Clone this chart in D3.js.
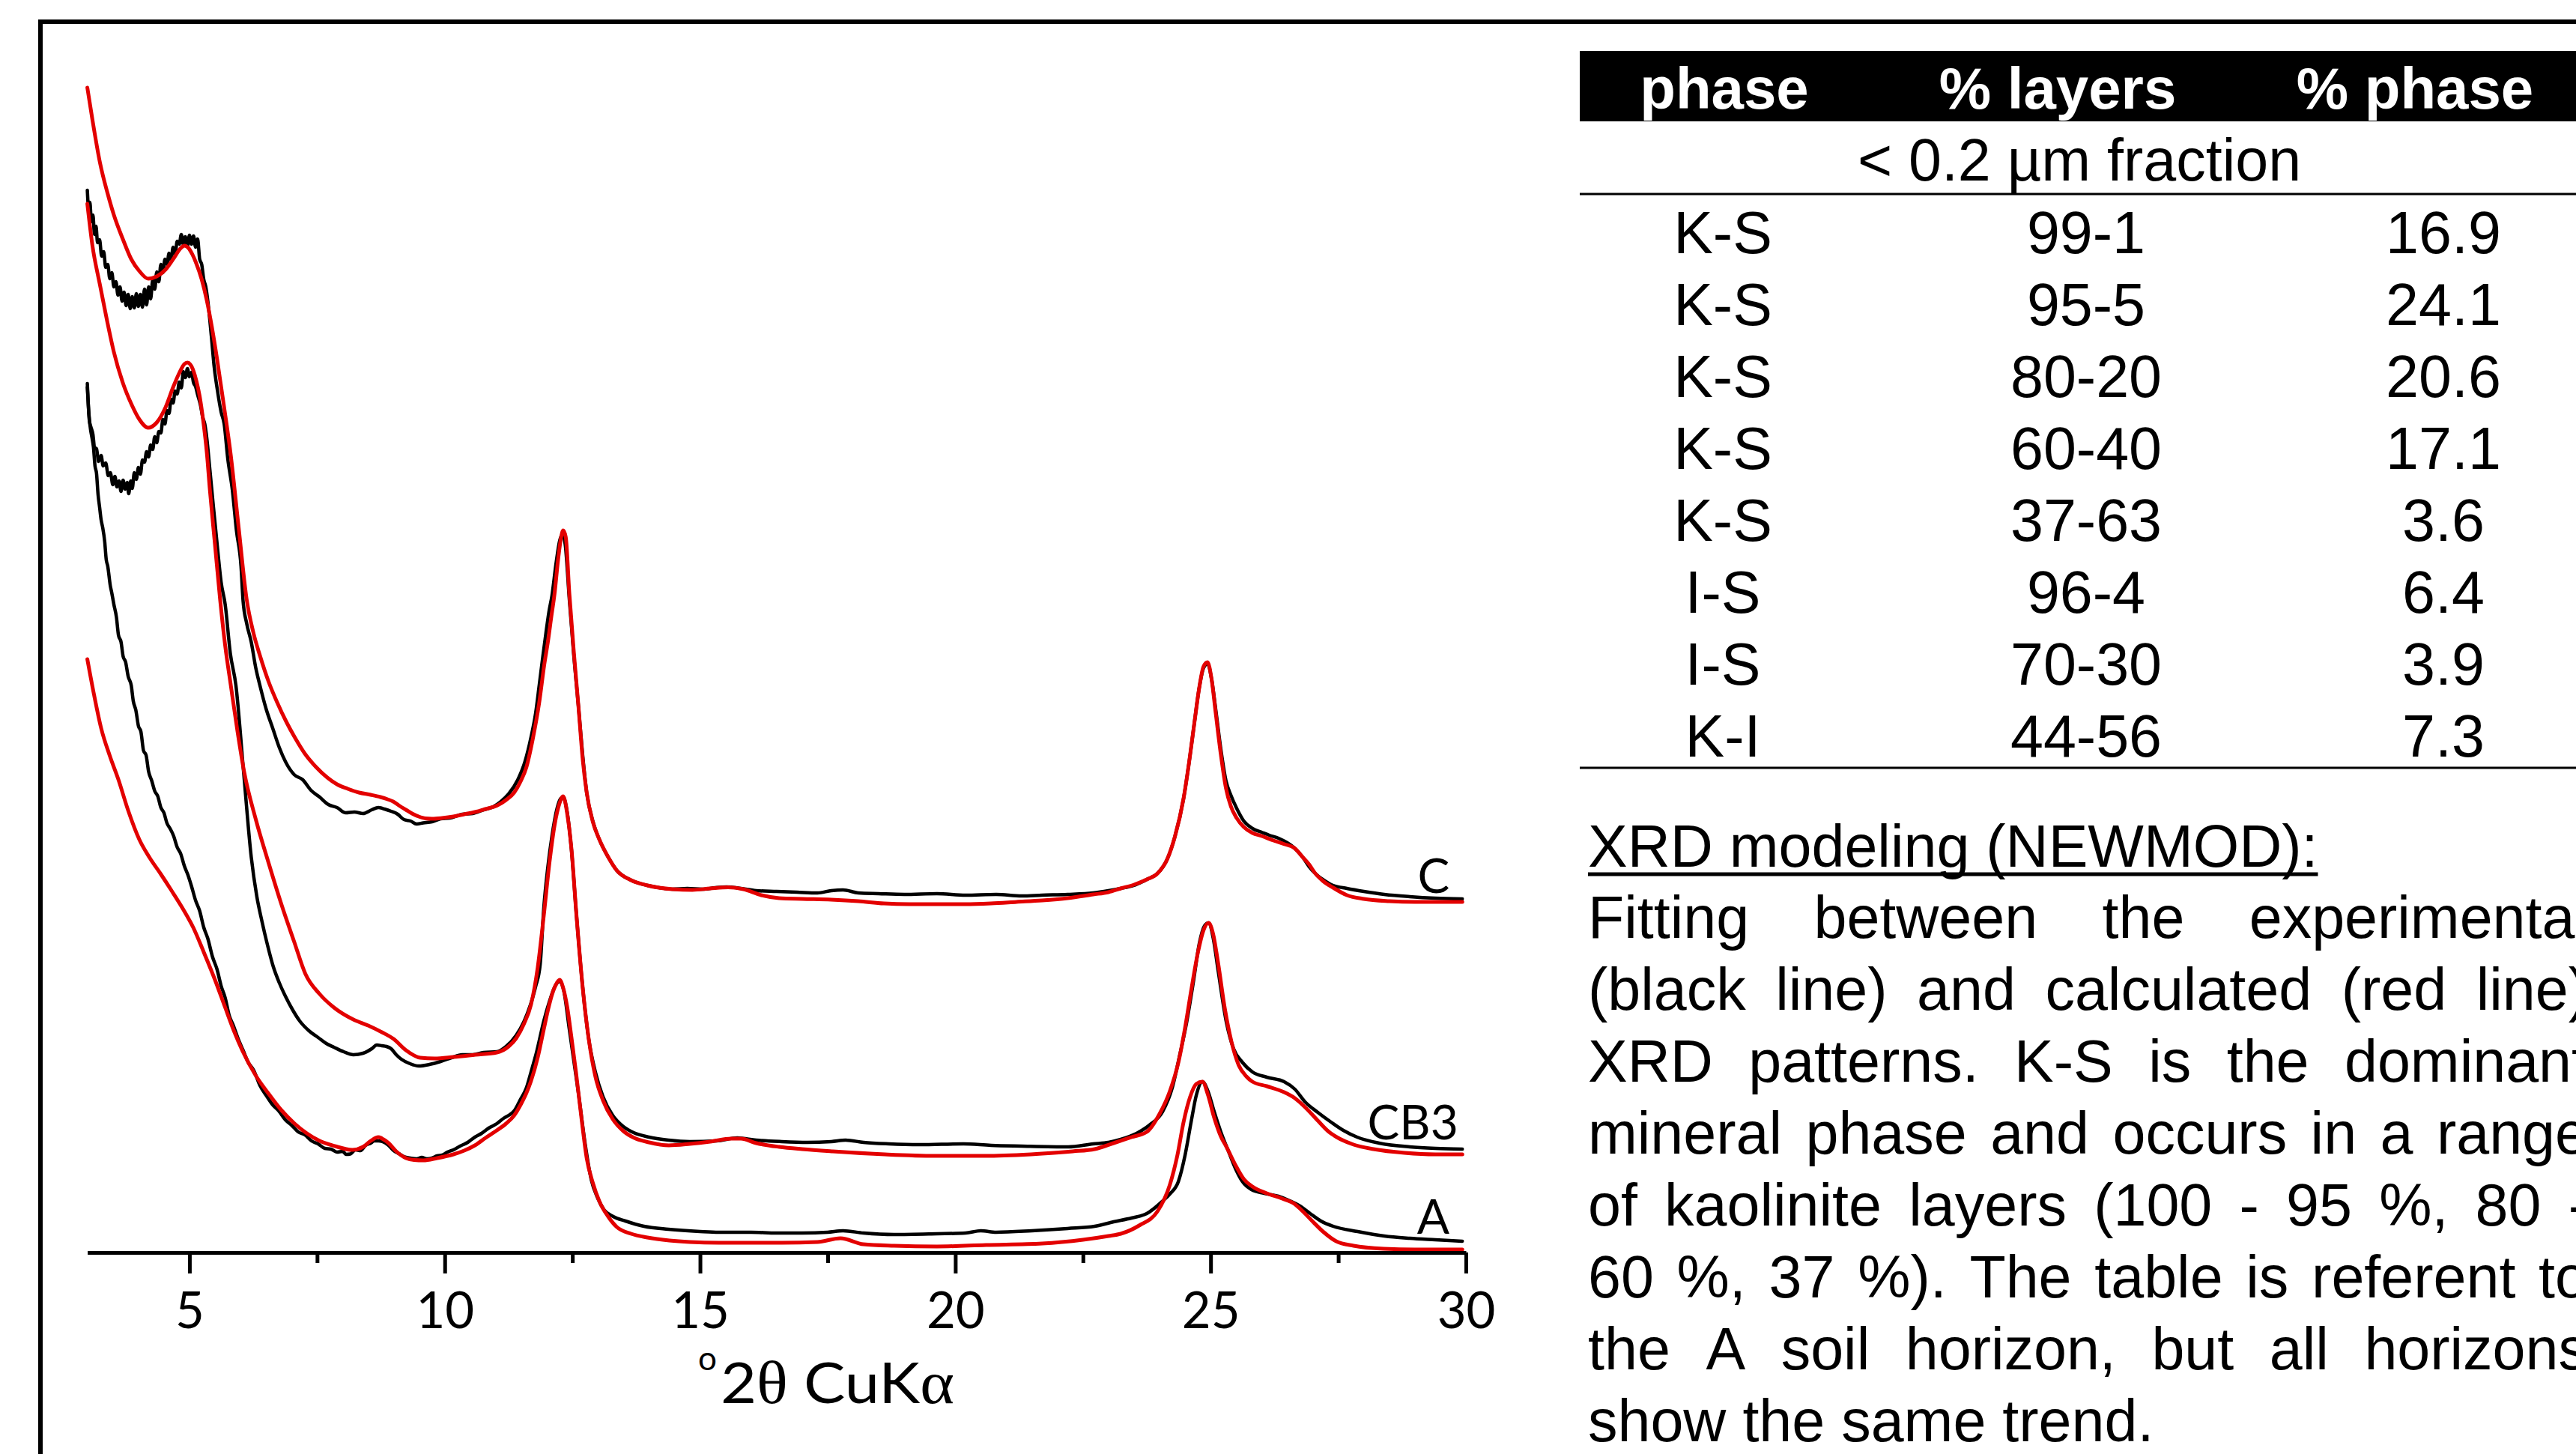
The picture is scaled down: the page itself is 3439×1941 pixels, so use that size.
<!DOCTYPE html>
<html>
<head>
<meta charset="utf-8">
<script src="https://cdn.jsdelivr.net/npm/d3@7"></script>
<style>
  body { margin: 0; background: #fff; }
  svg { display: block; }
</style>
</head>
<body>
<div id="chart"></div>
<script>
// ---- Data ----

// x axis (degrees 2-theta)
const xTicks = [5, 10, 15, 20, 25, 30];
const xMinorTicks = [7.5, 12.5, 17.5, 22.5, 27.5];

// Sample names (top to bottom)
const sampleNames = ["C", "CB3", "A"];

// Experimental pattern, sample C  [2theta, intensity (a.u., stacked)]
const expC = [
  [3.00,141.8],[3.03,139.0],[3.05,140.2],[3.08,137.6],[3.11,138.5],[3.14,135.9],[3.17,137.0],[3.20,134.8],
  [3.24,135.2],[3.28,133.0],[3.32,133.6],[3.36,131.5],[3.40,131.9],[3.44,130.0],[3.48,130.8],[3.52,128.9],
  [3.56,129.6],[3.60,127.8],[3.64,128.9],[3.68,127.0],[3.72,128.2],[3.76,126.4],[3.80,127.9],[3.84,126.0],
  [3.88,127.6],[3.92,126.1],[3.96,128.0],[4.00,126.3],[4.04,127.9],[4.08,126.2],[4.12,128.6],[4.16,126.5],
  [4.20,128.9],[4.24,127.3],[4.28,129.8],[4.32,128.6],[4.36,130.9],[4.40,129.6],[4.44,131.9],[4.48,130.8],
  [4.52,132.6],[4.56,131.9],[4.60,133.4],[4.64,132.5],[4.68,134.2],[4.72,133.3],[4.76,135.0],[4.80,134.6],
  [4.84,135.9],[4.88,134.6],[4.92,135.6],[4.96,134.3],[5.00,135.8],[5.04,134.6],[5.08,135.7],[5.12,134.2],
  [5.16,135.3],[5.20,132.6],[5.24,131.9],[5.28,129.9],[5.32,128.9],[5.36,127.0],[5.40,124.4],[5.44,121.5],
  [5.48,118.5],[5.55,115.0],[5.62,112.2],[5.68,110.6],[5.75,106.0],[5.84,101.8],[5.92,96.4],[6.01,91.6],
  [6.05,87.0],[6.12,84.0],[6.21,81.5],[6.30,78.0],[6.38,75.7],[6.50,72.6],[6.63,70.0],[6.76,67.4],
  [6.89,65.4],[7.05,63.8],[7.22,63.1],[7.38,61.7],[7.55,60.8],[7.72,59.8],[7.89,59.4],[8.06,58.7],
  [8.23,58.8],[8.40,58.6],[8.57,59.1],[8.70,59.4],[8.82,59.2],[8.95,58.9],[9.08,58.5],[9.20,57.8],
  [9.33,57.6],[9.45,57.2],[9.58,57.35],[9.75,57.5],[9.92,57.9],[10.10,58.0],[10.34,58.5],[10.55,58.6],
  [10.76,59.1],[10.95,59.5],[11.10,60.2],[11.25,61.2],[11.43,63.1],[11.57,65.5],[11.69,68.8],[11.78,72.0],
  [11.85,75.7],[11.92,79.5],[11.98,82.6],[12.04,85.5],[12.10,87.7],[12.18,92.0],[12.25,95.0],[12.31,95.9],
  [12.36,94.5],[12.44,87.2],[12.53,79.5],[12.62,72.8],[12.70,66.5],[12.78,61.4],[12.90,57.6],[13.03,55.1],
  [13.20,52.8],[13.37,51.0],[13.65,49.7],[13.97,49.0],[14.20,48.7],[14.46,48.5],[14.75,48.6],[15.05,48.5],
  [15.30,48.7],[15.52,48.8],[15.80,48.6],[16.10,48.3],[16.50,48.2],[16.90,48.1],[17.30,48.0],[17.57,48.3],
  [17.80,48.4],[18.10,48.0],[18.50,47.9],[19.00,47.8],[19.64,47.9],[20.20,47.7],[20.80,47.8],[21.30,47.6],
  [21.70,47.7],[22.20,47.8],[22.70,48.0],[23.00,48.3],[23.24,48.6],[23.50,49.0],[23.75,49.8],[23.96,50.6],
  [24.15,52.5],[24.30,55.5],[24.47,60.6],[24.58,65.5],[24.68,70.6],[24.78,75.5],[24.86,78.0],[24.94,78.6],
  [25.02,76.5],[25.10,72.5],[25.20,67.2],[25.30,63.0],[25.40,61.0],[25.51,59.3],[25.65,57.6],[25.82,56.6],
  [26.00,56.1],[26.15,55.7],[26.33,55.3],[26.50,54.7],[26.64,54.0],[26.80,52.8],[26.93,51.5],[27.05,50.6],
  [27.20,49.8],[27.40,49.0],[27.67,48.6],[28.00,48.2],[28.40,47.8],[28.90,47.5],[29.40,47.3],[29.93,47.2]
];

// Calculated pattern, sample C
const calcC = [
  [3.00,155.5],[3.10,151.2],[3.25,145.4],[3.40,141.3],[3.52,138.5],[3.70,135.2],[3.86,132.6],[4.02,131.0],
  [4.19,130.0],[4.36,130.3],[4.53,131.2],[4.70,132.8],[4.82,134.0],[4.90,134.4],[4.98,134.1],[5.06,133.2],
  [5.13,132.1],[5.24,129.9],[5.34,127.1],[5.44,123.5],[5.54,119.3],[5.68,112.8],[5.81,106.4],[5.96,97.0],
  [6.12,87.2],[6.25,82.8],[6.38,79.7],[6.55,76.2],[6.72,73.4],[6.90,70.8],[7.06,68.8],[7.27,66.5],
  [7.48,64.8],[7.70,63.4],[7.89,62.5],[8.10,61.9],[8.32,61.4],[8.55,61.1],[8.74,60.8],[8.88,60.5],
  [8.99,60.2],[9.12,59.6],[9.24,59.1],[9.36,58.6],[9.49,58.2],[9.62,57.95],[9.75,57.9],[9.95,58.0],
  [10.17,58.2],[10.38,58.5],[10.59,58.8],[10.80,59.2],[11.02,59.65],[11.20,60.4],[11.36,61.4],[11.48,62.8],
  [11.60,64.8],[11.72,68.4],[11.85,73.4],[11.95,78.5],[12.02,81.5],[12.09,85.0],[12.15,87.9],[12.22,92.5],
  [12.28,95.5],[12.32,96.4],[12.37,95.5],[12.44,88.0],[12.53,80.0],[12.62,72.8],[12.70,66.0],[12.78,61.4],
  [12.90,57.5],[13.03,55.1],[13.20,52.8],[13.37,51.0],[13.65,49.7],[13.97,49.0],[14.46,48.5],[14.85,48.4],
  [15.20,48.6],[15.55,48.75],[15.85,48.5],[16.20,47.7],[16.55,47.3],[17.00,47.2],[17.57,47.1],[18.10,46.9],
  [18.60,46.6],[19.10,46.5],[19.64,46.5],[20.20,46.5],[20.70,46.6],[21.20,46.8],[21.70,47.0],[22.20,47.3],
  [22.70,47.8],[23.00,48.1],[23.24,48.6],[23.50,49.1],[23.75,49.8],[23.96,50.6],[24.15,52.5],[24.30,55.5],
  [24.47,60.6],[24.58,65.5],[24.68,70.6],[24.78,75.5],[24.86,78.2],[24.94,78.8],[25.02,76.5],[25.10,72.0],
  [25.20,66.5],[25.30,62.0],[25.40,59.5],[25.51,58.0],[25.65,56.8],[25.82,56.0],[26.00,55.6],[26.23,55.0],
  [26.45,54.5],[26.64,54.0],[26.80,52.8],[26.93,51.8],[27.05,50.6],[27.20,49.6],[27.40,48.7],[27.67,47.7],
  [28.00,47.2],[28.50,46.9],[29.00,46.8],[29.50,46.8],[29.93,46.8]
];

// Experimental pattern, sample CB3
const expCB3 = [
  [3.00,116.0],[3.02,113.0],[3.04,111.0],[3.07,110.2],[3.11,109.2],[3.14,107.5],[3.18,107.3],[3.22,105.6],
  [3.27,106.4],[3.31,105.0],[3.36,105.4],[3.41,103.7],[3.45,104.1],[3.50,102.5],[3.54,103.6],[3.58,102.2],
  [3.62,103.0],[3.66,101.6],[3.70,103.1],[3.74,101.9],[3.78,102.8],[3.81,101.3],[3.85,103.0],[3.88,102.0],
  [3.92,104.1],[3.96,103.2],[4.00,104.8],[4.04,103.9],[4.08,105.8],[4.12,105.5],[4.16,106.9],[4.20,106.2],
  [4.24,107.8],[4.28,107.2],[4.32,108.9],[4.36,108.1],[4.40,109.6],[4.44,109.4],[4.48,111.2],[4.52,110.6],
  [4.56,112.4],[4.60,112.0],[4.64,113.9],[4.68,113.4],[4.72,115.0],[4.76,114.6],[4.80,116.2],[4.84,115.4],
  [4.88,117.6],[4.92,116.8],[4.96,118.0],[5.00,116.9],[5.04,117.5],[5.08,116.1],[5.12,115.6],[5.16,114.5],
  [5.21,113.3],[5.26,111.5],[5.30,110.6],[5.34,108.7],[5.40,104.5],[5.47,99.5],[5.55,94.0],[5.62,89.5],
  [5.70,86.5],[5.80,80.0],[5.91,75.7],[6.06,64.2],[6.21,52.8],[6.32,47.5],[6.42,44.2],[6.53,41.0],
  [6.64,38.2],[6.76,36.0],[6.88,34.2],[7.02,32.4],[7.16,30.9],[7.34,29.6],[7.52,28.7],[7.68,27.9],
  [7.83,27.4],[8.02,26.8],[8.21,26.4],[8.40,26.6],[8.57,27.2],[8.67,27.7],[8.77,27.6],[8.86,27.5],
  [8.95,27.2],[9.05,26.4],[9.15,25.8],[9.32,25.2],[9.49,24.9],[9.70,25.1],[9.92,25.5],[10.13,26.0],
  [10.34,26.4],[10.55,26.4],[10.76,26.7],[11.02,26.8],[11.20,27.5],[11.40,29.0],[11.55,30.8],[11.68,33.1],
  [11.78,35.5],[11.87,38.5],[11.94,46.0],[12.02,51.5],[12.10,55.6],[12.20,59.3],[12.27,60.6],[12.32,60.8],
  [12.38,59.5],[12.48,53.9],[12.58,45.0],[12.70,35.5],[12.82,28.5],[12.95,24.1],[13.10,20.8],[13.29,18.3],
  [13.50,16.8],[13.70,16.0],[14.00,15.4],[14.38,15.0],[14.80,14.8],[15.33,14.9],[15.73,15.3],[16.10,15.0],
  [16.60,14.8],[17.10,14.7],[17.57,14.8],[17.85,15.0],[18.20,14.7],[18.70,14.5],[19.30,14.4],[20.16,14.5],
  [20.70,14.3],[21.30,14.2],[22.21,14.1],[22.70,14.5],[23.00,14.7],[23.24,15.1],[23.55,15.9],[23.80,17.0],
  [24.06,18.8],[24.25,22.0],[24.40,26.5],[24.53,30.7],[24.66,36.0],[24.78,41.3],[24.88,43.6],[24.96,44.0],
  [25.05,42.0],[25.15,37.5],[25.31,30.7],[25.45,27.2],[25.62,25.4],[25.82,24.1],[26.10,23.4],[26.44,22.8],
  [26.65,21.8],[26.85,20.1],[27.10,18.7],[27.36,17.4],[27.60,16.3],[27.87,15.4],[28.30,14.6],[28.90,14.1],
  [29.40,13.9],[29.93,13.8]
];

// Calculated pattern, sample CB3
const calcCB3 = [
  [3.00,140.0],[3.10,134.4],[3.24,129.4],[3.38,124.6],[3.52,120.2],[3.70,116.0],[3.86,113.3],[4.02,111.2],
  [4.19,110.1],[4.36,110.8],[4.53,112.8],[4.68,115.5],[4.80,117.4],[4.90,118.6],[4.96,118.8],[5.04,118.3],
  [5.13,116.5],[5.20,114.3],[5.27,111.0],[5.34,106.8],[5.40,101.8],[5.50,94.5],[5.60,87.2],[5.70,81.0],
  [5.81,75.7],[5.94,69.6],[6.07,64.2],[6.30,57.8],[6.55,52.0],[6.80,46.5],[7.05,41.5],[7.27,37.2],
  [7.55,34.5],[7.83,32.7],[8.21,31.1],[8.50,30.3],[8.77,29.4],[9.00,28.5],[9.24,27.0],[9.52,26.0],
  [9.80,25.9],[10.17,26.1],[10.60,26.4],[11.02,26.7],[11.25,27.5],[11.40,28.6],[11.55,30.5],[11.69,33.1],
  [11.82,38.0],[11.94,45.0],[12.05,52.0],[12.15,57.0],[12.25,60.0],[12.32,60.9],[12.40,58.5],[12.48,54.0],
  [12.58,45.0],[12.70,35.5],[12.82,28.5],[12.95,23.5],[13.10,20.3],[13.29,17.8],[13.50,16.2],[13.71,15.3],
  [14.00,14.7],[14.39,14.3],[14.80,14.5],[15.20,14.8],[15.61,15.2],[15.80,15.2],[16.10,14.6],[16.55,14.1],
  [17.00,13.8],[17.60,13.5],[18.62,13.1],[19.60,12.9],[20.67,12.9],[21.70,13.2],[22.30,13.5],[22.73,13.8],
  [23.10,14.6],[23.45,15.4],[23.75,16.1],[24.00,18.5],[24.20,21.5],[24.37,25.4],[24.50,30.0],[24.62,35.0],
  [24.75,40.0],[24.86,43.0],[24.96,44.0],[25.05,42.5],[25.15,38.5],[25.28,32.5],[25.41,28.1],[25.55,25.0],
  [25.70,23.5],[25.82,22.8],[26.10,22.2],[26.44,21.4],[26.65,20.6],[26.85,19.4],[27.10,17.6],[27.30,16.2],
  [27.47,15.4],[27.80,14.4],[28.19,13.8],[28.80,13.3],[29.40,13.1],[29.93,13.1]
];

// Experimental pattern, sample A
const expA = [
  [3.00,115.5],[3.03,112.0],[3.06,110.0],[3.09,108.8],[3.12,107.5],[3.15,105.0],[3.18,104.0],[3.21,101.2],
  [3.24,99.5],[3.27,97.8],[3.30,96.8],[3.34,94.9],[3.37,92.5],[3.40,91.6],[3.45,89.0],[3.48,88.0],
  [3.52,86.5],[3.57,84.8],[3.61,82.4],[3.66,81.5],[3.70,79.6],[3.75,78.8],[3.80,76.9],[3.86,75.7],
  [3.90,73.6],[3.95,72.4],[4.00,70.3],[4.05,69.5],[4.10,67.0],[4.15,66.4],[4.20,64.2],[4.26,63.0],
  [4.32,61.6],[4.38,60.9],[4.44,59.4],[4.50,58.7],[4.56,57.3],[4.62,56.6],[4.69,55.6],[4.76,54.1],
  [4.83,53.2],[4.90,51.6],[4.97,50.4],[5.04,48.9],[5.12,47.0],[5.20,45.6],[5.28,43.4],[5.36,41.9],
  [5.45,39.5],[5.54,37.8],[5.62,35.6],[5.70,34.0],[5.78,31.6],[5.86,30.3],[5.95,28.6],[6.05,27.0],
  [6.15,25.4],[6.26,24.3],[6.38,22.3],[6.50,21.0],[6.62,19.8],[6.75,18.9],[6.88,17.7],[7.00,17.0],
  [7.13,16.1],[7.26,15.7],[7.39,14.9],[7.52,14.5],[7.65,13.9],[7.77,13.8],[7.89,13.4],[8.00,13.5],
  [8.07,13.1],[8.15,13.15],[8.25,13.7],[8.35,13.6],[8.45,14.3],[8.55,14.6],[8.62,14.9],[8.70,14.9],
  [8.78,14.8],[8.90,14.3],[9.00,13.6],[9.10,13.2],[9.20,12.8],[9.33,12.6],[9.45,12.5],[9.55,12.7],
  [9.65,12.5],[9.75,12.6],[9.85,12.9],[9.95,13.0],[10.05,13.4],[10.17,13.7],[10.30,14.2],[10.45,14.7],
  [10.59,15.4],[10.72,15.9],[10.86,16.6],[11.02,17.2],[11.15,17.9],[11.25,18.3],[11.36,18.9],[11.48,20.4],
  [11.60,22.0],[11.69,24.1],[11.80,26.8],[11.94,30.9],[12.05,33.5],[12.15,35.4],[12.25,36.2],[12.33,35.0],
  [12.44,29.8],[12.53,25.5],[12.62,21.2],[12.75,14.5],[12.87,9.7],[13.00,7.2],[13.12,5.7],[13.30,4.8],
  [13.54,4.2],[13.90,3.5],[14.38,3.1],[15.00,2.8],[15.37,2.7],[16.00,2.7],[16.50,2.6],[17.00,2.6],
  [17.50,2.7],[17.80,2.9],[18.20,2.6],[18.80,2.4],[19.64,2.5],[20.20,2.6],[20.50,2.9],[20.80,2.7],
  [21.50,2.9],[22.20,3.2],[22.73,3.5],[23.10,4.1],[23.45,4.6],[23.75,5.2],[24.05,6.8],[24.20,7.8],
  [24.37,9.5],[24.50,13.0],[24.62,17.5],[24.72,21.0],[24.84,22.8],[24.95,21.5],[25.07,18.8],[25.20,16.1],
  [25.35,13.5],[25.50,11.0],[25.62,9.5],[25.80,8.4],[26.05,7.9],[26.33,7.5],[26.55,6.9],[26.75,6.2],
  [26.95,5.2],[27.16,4.2],[27.40,3.5],[27.88,2.8],[28.40,2.2],[28.90,1.9],[29.40,1.7],[29.93,1.5]
];

// Calculated pattern, sample A
const calcA = [
  [3.00,79.2],[3.13,74.5],[3.27,70.0],[3.44,66.3],[3.61,63.1],[3.80,59.0],[4.02,55.1],[4.22,52.7],
  [4.44,50.5],[4.65,48.3],[4.87,45.9],[5.08,43.3],[5.28,40.1],[5.50,36.4],[5.70,32.7],[5.87,29.6],
  [6.04,26.9],[6.30,23.6],[6.55,21.2],[6.80,19.0],[7.06,17.2],[7.30,15.9],[7.55,14.9],[7.85,14.2],
  [8.19,13.7],[8.40,14.1],[8.55,14.9],[8.70,15.4],[8.80,15.1],[8.90,14.6],[9.05,13.5],[9.24,12.6],
  [9.40,12.35],[9.58,12.3],[9.85,12.6],[10.17,13.1],[10.38,13.6],[10.59,14.3],[10.80,15.3],[11.02,16.3],
  [11.20,17.2],[11.36,18.3],[11.50,19.9],[11.60,21.3],[11.69,22.9],[11.82,26.0],[11.94,29.8],[12.03,32.6],
  [12.10,34.4],[12.18,35.8],[12.25,36.4],[12.32,35.3],[12.40,32.7],[12.48,28.8],[12.57,24.1],[12.68,17.8],
  [12.78,12.6],[12.90,9.3],[13.03,6.8],[13.20,4.8],[13.37,3.4],[13.65,2.5],[13.97,2.0],[14.40,1.6],
  [14.80,1.4],[15.37,1.3],[16.00,1.3],[16.60,1.3],[17.30,1.4],[17.75,1.9],[18.20,1.1],[18.80,0.9],
  [19.64,0.8],[20.60,1.0],[21.70,1.2],[22.50,1.7],[23.00,2.2],[23.24,2.5],[23.60,3.6],[23.96,5.5],
  [24.20,9.0],[24.35,13.0],[24.47,17.4],[24.60,20.8],[24.72,22.5],[24.84,22.8],[24.95,21.0],[25.07,18.0],
  [25.20,15.5],[25.31,14.1],[25.50,11.5],[25.65,9.8],[25.82,8.8],[26.10,7.9],[26.40,7.2],[26.64,6.5],
  [26.82,5.4],[26.99,4.2],[27.20,2.8],[27.46,1.5],[27.80,0.9],[28.39,0.5],[29.00,0.4],[29.93,0.4]
];

// Table
const tableHeader = ["phase", "% layers", "% phase"];
const tableSubHeader = "< 0.2 µm fraction";
const phases = ["K-S", "K-S", "K-S", "K-S", "K-S", "I-S", "I-S", "K-I"];
const layers = ["99-1", "95-5", "80-20", "60-40", "37-63", "96-4", "70-30", "44-56"];
const phasePct = ["16.9", "24.1", "20.6", "17.1", "3.6", "6.4", "3.9", "7.3"];

// Notes
const noteTitle = "XRD modeling (NEWMOD):";
const noteLines = [
  "Fitting between the experimental",
  "(black line) and calculated (red line)",
  "XRD patterns. K-S is the dominant",
  "mineral phase and occurs in a range",
  "of kaolinite layers (100 - 95 %, 80 -",
  "60 %, 37 %). The table is referent to",
  "the A soil horizon, but all horizons",
  "show the same trend."
];

// ---- Setup ----
const width = 3439;
const height = 1941;
const chartFont = "Lato, 'Noto Sans', sans-serif";
const greekFont = "'Liberation Serif', 'DejaVu Serif', serif";
const tableFont = "'Liberation Sans', Arial, sans-serif";
const red = "#e30000";

const svg = d3.select("#chart")
  .append("svg")
  .attr("width", width)
  .attr("height", height);

svg.append("rect")
  .attr("width", width)
  .attr("height", height)
  .attr("fill", "#fff");

// outer frame (runs off the right and bottom)
svg.append("rect")
  .attr("x", 54)
  .attr("y", 29)
  .attr("width", 3500)
  .attr("height", 2000)
  .attr("fill", "none")
  .attr("stroke", "#000")
  .attr("stroke-width", 6);

// Scales
const x = d3.scaleLinear().domain([3, 30]).range([116.6, 1957]);
const y = d3.scaleLinear().domain([0, 160]).range([1672, 72]);

const line = d3.line()
  .x(d => x(d[0]))
  .y(d => y(d[1]))
  .curve(d3.curveMonotoneX);

// Curves: experimental (black) under calculated (red)
const curvesGroup = svg.append("g")
  .attr("fill", "none")
  .attr("stroke-linejoin", "round")
  .attr("stroke-linecap", "round");

const experimental = [expC, expCB3, expA];
const calculated = [calcC, calcCB3, calcA];

curvesGroup.selectAll(".exp")
  .data(experimental)
  .join("path")
  .attr("class", "exp")
  .attr("d", line)
  .attr("stroke", "#000")
  .attr("stroke-width", 4.5);

curvesGroup.selectAll(".calc")
  .data(calculated)
  .join("path")
  .attr("class", "calc")
  .attr("d", line)
  .attr("stroke", red)
  .attr("stroke-width", 5);

// Sample labels, just above the right end of each experimental curve
const labelDy = [-8, -13, -10];
svg.append("g")
  .attr("font-family", chartFont)
  .attr("font-size", 64)
  .attr("text-anchor", "end")
  .selectAll("text")
  .data(sampleNames)
  .join("text")
  .attr("x", (d, i) => i === 1 ? x(29.85) : x(29.68))
  .attr("y", (d, i) => {
    const last = experimental[i][experimental[i].length - 1];
    return y(last[1]) + labelDy[i];
  })
  .text(d => d);

// x axis
const axisY = y(0);
const xAxis = svg.append("g")
  .attr("transform", `translate(0,${axisY})`)
  .call(d3.axisBottom(x).tickValues(xTicks).tickSize(28).tickSizeOuter(0).tickPadding(25));

xAxis.select(".domain").attr("stroke", "#000").attr("stroke-width", 5);
xAxis.selectAll(".tick line").attr("stroke", "#000").attr("stroke-width", 5);
xAxis.selectAll(".tick text")
  .attr("font-family", chartFont)
  .attr("font-size", 67)
  .attr("fill", "#000");

const xMinor = svg.append("g")
  .attr("transform", `translate(0,${axisY})`)
  .call(d3.axisBottom(x).tickValues(xMinorTicks).tickSize(14).tickSizeOuter(0).tickFormat(""));
xMinor.select(".domain").remove();
xMinor.selectAll(".tick line").attr("stroke", "#000").attr("stroke-width", 5);

// axis title: °2θ CuKα
const axisTitle = svg.append("g").attr("font-family", chartFont).attr("fill", "#000");
axisTitle.append("text")
  .attr("x", 932)
  .attr("y", 1829)
  .attr("font-size", 44)
  .text("o");
const titleMain = axisTitle.append("text")
  .attr("x", 962)
  .attr("y", 1873)
  .attr("font-size", 76)
  .attr("textLength", 312)
  .attr("lengthAdjust", "spacingAndGlyphs");
titleMain.append("tspan").text("2");
titleMain.append("tspan").attr("font-family", greekFont).attr("font-size", 80).text("θ");
titleMain.append("tspan").text(" CuK");
titleMain.append("tspan").attr("font-family", greekFont).attr("font-size", 80).text("α");

// ---- Table ----
const table = svg.append("g").attr("font-family", tableFont);
const tableLeft = 2109;
const tableRight = 3500;

table.append("rect")
  .attr("x", tableLeft)
  .attr("y", 68)
  .attr("width", tableRight - tableLeft)
  .attr("height", 94)
  .attr("fill", "#000");

const headerX = [2302, 2747, 3224];
table.selectAll(".head")
  .data(tableHeader)
  .join("text")
  .attr("class", "head")
  .attr("x", (d, i) => headerX[i])
  .attr("y", 145)
  .attr("text-anchor", "middle")
  .attr("font-weight", "bold")
  .attr("font-size", 78)
  .attr("fill", "#fff")
  .text(d => d);

table.append("text")
  .attr("x", 2776)
  .attr("y", 241)
  .attr("text-anchor", "middle")
  .attr("font-size", 79)
  .text(tableSubHeader);

table.append("line")
  .attr("x1", tableLeft).attr("x2", tableRight)
  .attr("y1", 259).attr("y2", 259)
  .attr("stroke", "#000").attr("stroke-width", 3);

const rowY = d3.scaleLinear().domain([0, 1]).range([338, 434]);
const colX = [2300, 2785, 3262];
const columns = [phases, layers, phasePct];

columns.forEach((col, c) => {
  table.append("g")
    .attr("font-size", 79)
    .attr("text-anchor", "middle")
    .selectAll("text")
    .data(col)
    .join("text")
    .attr("x", colX[c])
    .attr("y", (d, i) => rowY(i))
    .text(d => d);
});

table.append("line")
  .attr("x1", tableLeft).attr("x2", tableRight)
  .attr("y1", 1025).attr("y2", 1025)
  .attr("stroke", "#000").attr("stroke-width", 3);

// ---- Notes (justified paragraph) ----
const notes = svg.append("g").attr("font-family", tableFont).attr("font-size", 79);
const noteLeft = 2120;
const noteRight = 3455;

const titleText = notes.append("text")
  .attr("x", noteLeft)
  .attr("y", 1157)
  .text(noteTitle);
const titleW = titleText.node().getComputedTextLength();
notes.append("line")
  .attr("x1", noteLeft).attr("x2", noteLeft + titleW)
  .attr("y1", 1167).attr("y2", 1167)
  .attr("stroke", "#000").attr("stroke-width", 5);

const measurer = notes.append("text").attr("visibility", "hidden");
function textWidth(s) {
  measurer.text(s);
  return measurer.node().getComputedTextLength();
}
const spaceW = textWidth("a a") - textWidth("aa");

noteLines.forEach((ln, i) => {
  const words = ln.split(" ");
  const widths = words.map(textWidth);
  const total = d3.sum(widths);
  const last = i === noteLines.length - 1;
  const gap = last ? spaceW : (noteRight - noteLeft - total) / (words.length - 1);
  const t = notes.append("text").attr("y", 1252 + i * 96);
  let cx = noteLeft;
  words.forEach((w, j) => {
    t.append("tspan").attr("x", cx).text(w);
    cx += widths[j] + gap;
  });
});
measurer.remove();
</script>
</body>
</html>
